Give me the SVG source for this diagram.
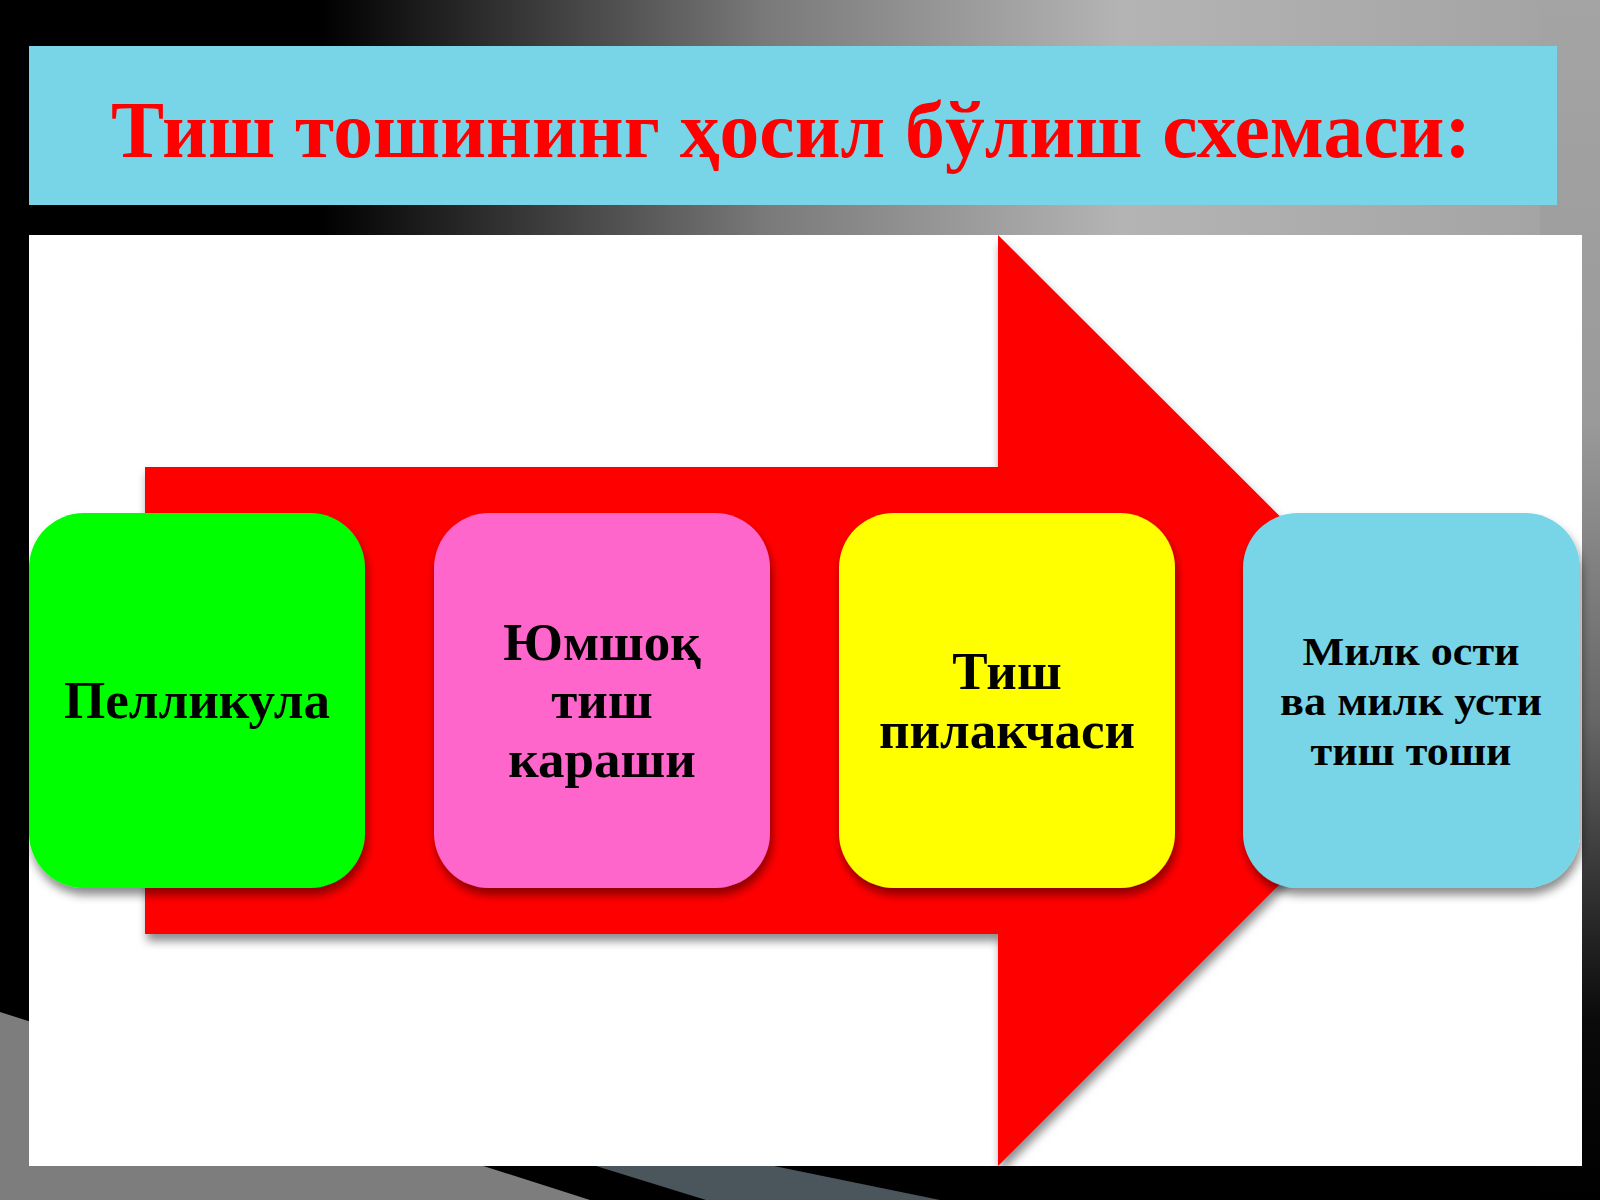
<svg xmlns="http://www.w3.org/2000/svg" width="1600" height="1200" viewBox="0 0 1600 1200">
  <defs>
    <linearGradient id="topGrad" x1="0" y1="0" x2="1" y2="0">
      <stop offset="0" stop-color="#000000"/>
      <stop offset="0.2" stop-color="#000000"/>
      <stop offset="0.48" stop-color="#7a7a7a"/>
      <stop offset="0.7" stop-color="#b4b4b4"/>
      <stop offset="1" stop-color="#a2a2a2"/>
    </linearGradient>
    <linearGradient id="rightGrad" x1="0" y1="0" x2="0" y2="1">
      <stop offset="0" stop-color="#a4a4a4"/>
      <stop offset="0.35" stop-color="#9a9a9a"/>
      <stop offset="0.6" stop-color="#666666"/>
      <stop offset="0.85" stop-color="#0a0a0a"/>
      <stop offset="1" stop-color="#000000"/>
    </linearGradient>
    <filter id="shadow" x="-10%" y="-10%" width="125%" height="130%">
      <feDropShadow dx="2" dy="7" stdDeviation="5" flood-color="#000000" flood-opacity="0.45"/>
    </filter>
    <style>
      .title { font-family: "Liberation Serif", "Times New Roman", serif; font-weight: bold; font-size: 81px; fill: #ff0000; }
      .lbl { font-family: "Liberation Serif", "Times New Roman", serif; font-weight: bold; font-size: 53px; fill: #000000; text-anchor: middle; }
      .lbl-s { font-family: "Liberation Serif", "Times New Roman", serif; font-weight: bold; font-size: 41px; fill: #000000; text-anchor: middle; }
      .box { filter: url(#shadow); }
    </style>
  </defs>

  <!-- background -->
  <rect x="0" y="0" width="1600" height="1200" fill="#000000"/>
  <rect x="0" y="0" width="1600" height="240" fill="url(#topGrad)"/>
  <rect x="1540" y="0" width="60" height="1200" fill="url(#rightGrad)"/>
  <polygon points="0,1012 590,1200 0,1200" fill="#7d7d7d"/>
  <polygon points="596,1166 774,1166 940,1200 706,1200" fill="#4a565b"/>

  <!-- title banner -->
  <g id="title">
    <rect x="29" y="46" width="1528" height="159" fill="#78d5e8"/>
    <text class="title" x="111" y="157" textLength="1360" lengthAdjust="spacingAndGlyphs">Тиш тошининг ҳосил бўлиш схемаси:</text>
  </g>

  <!-- white panel -->
  <rect x="29" y="235" width="1553" height="931" fill="#ffffff"/>

  <!-- block arrow -->
  <g id="connectors">
    <polygon points="145,467 998,467 998,235 1464,700 998,1166 998,934 145,934" fill="#ff0000" filter="url(#shadow)"/>
  </g>

  <g id="node-pellicle">
    <rect class="box" x="29" y="513" width="336" height="375" rx="55" ry="55" fill="#00ff00"/>
    <text class="lbl" x="197" y="718">Пелликула</text>
  </g>

  <g id="node-soft-plaque">
    <rect class="box" x="434" y="513" width="336" height="375" rx="55" ry="55" fill="#ff66cc"/>
    <text class="lbl" x="602" y="660">Юмшоқ</text>
    <text class="lbl" x="602" y="718">тиш</text>
    <text class="lbl" x="602" y="777">караши</text>
  </g>

  <g id="node-plaque">
    <rect class="box" x="839" y="513" width="336" height="375" rx="55" ry="55" fill="#ffff00"/>
    <text class="lbl" x="1007" y="689">Тиш</text>
    <text class="lbl" x="1007" y="748">пилакчаси</text>
  </g>

  <g id="node-calculus">
    <rect class="box" x="1243" y="513" width="337" height="375" rx="55" ry="55" fill="#78d5e8"/>
    <text class="lbl-s" x="1411" y="665" textLength="217" lengthAdjust="spacingAndGlyphs">Милк ости</text>
    <text class="lbl-s" x="1411" y="715" textLength="262" lengthAdjust="spacingAndGlyphs">ва милк усти</text>
    <text class="lbl-s" x="1411" y="765" textLength="201" lengthAdjust="spacingAndGlyphs">тиш тоши</text>
  </g>
</svg>
